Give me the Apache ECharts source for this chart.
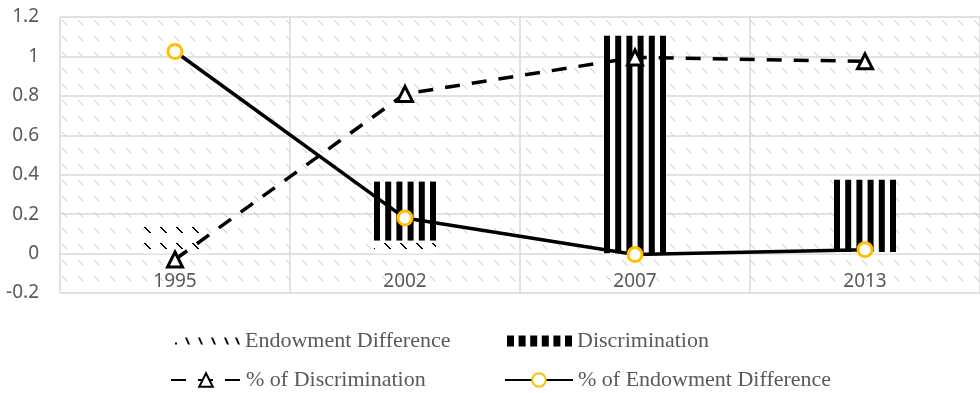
<!DOCTYPE html>
<html>
<head>
<meta charset="utf-8">
<script src="https://cdn.jsdelivr.net/npm/echarts@6/dist/echarts.min.js"></script>
<style>
  html, body { margin: 0; padding: 0; background: #fff; }
  #chart { width: 980px; height: 393px; }
</style>
</head>
<body>
<div id="chart"></div>
<script>
// Decomposition by survey year
const years = ['1995', '2002', '2007', '2013'];
const endowmentDiff = [0.135, 0.065, -0.005, 0.0075];
const discrimination = [-0.004, 0.30, 1.105, 0.367];
const pctDiscrimination = [-0.03, 0.81, 0.995, 0.975];
const pctEndowment = [1.025, 0.18, -0.005, 0.02];
const yTicks = { min: -0.2, max: 1.2, step: 0.2 };

const GRAY = '#595959';
const GRID_LINE = '#d9d9d9';

const GRID = { left: 60, right: 0, top: 17, bottom: 100 };
const CHART_H = 393;
const plotH = CHART_H - GRID.top - GRID.bottom;
// lift the category axis from the bottom edge up to the zero line
const zeroLift = (0 - yTicks.min) / (yTicks.max - yTicks.min) * plotH;

// Small repeating tile with a short downward diagonal dash
function dashTile(size, bg, fg, x0, y0, steps, thick) {
  const c = document.createElement('canvas');
  c.width = c.height = size;
  const g = c.getContext('2d');
  if (bg) { g.fillStyle = bg; g.fillRect(0, 0, size, size); }
  g.fillStyle = fg;
  for (let k = 0; k < steps; k++) {
    for (let t = 0; t < thick; t++) {
      g.fillRect((x0 + k + t) % size, (y0 + k) % size, 1, 1);
    }
  }
  return c;
}

const plotFill = { image: dashTile(16, '#ffffff', '#c4c4c4', 14, 4, 5, 1), repeat: 'repeat' };
const endowFill = { image: dashTile(16, '#ffffff', '#000000', 0, 3, 6, 2), repeat: 'repeat' };

// Legend glyphs
function dashIconPath() {
  let p = 'path://M0 5 L2 5 L2 7 L0 7 Z';
  [10, 23, 36, 49, 60].forEach(x => {
    p += ` M${x} 0 L${x + 2} 0 L${x + 5} 7 L${x + 3} 7 Z`;
  });
  return p;
}
function stripeIconPath() {
  let p = 'path://';
  for (let i = 0; i < 6; i++) {
    const x = +(i * 11.6).toFixed(1);
    p += `M${x} 0 L${x + 7} 0 L${x + 7} 11 L${x} 11 Z `;
  }
  return p.trim();
}

const BAR_W = 62;

// Striped discrimination bar, stacked on the endowment bar
function renderStripes(params, api) {
  const i = api.value(0);
  const endow = api.value(1);
  const disc = api.value(2);
  const base = (endow >= 0) === (disc >= 0) ? endow : 0;
  const p0 = api.coord([i, base]);
  const p1 = api.coord([i, base + disc]);
  const x = p0[0] - BAR_W / 2;
  const y = Math.min(p0[1], p1[1]);
  const h = Math.abs(p1[1] - p0[1]);
  // a bar thinner than one pixel does not show
  if (h < 1) return null;
  const stripeW = 6;
  const period = (BAR_W - stripeW) / 5;
  const children = [{
    type: 'rect',
    shape: { x: x, y: y, width: BAR_W, height: h },
    style: { fill: '#ffffff' }
  }];
  for (let s = 0; s < 6; s++) {
    children.push({
      type: 'rect',
      shape: { x: x + s * period, y: y, width: stripeW, height: h },
      style: { fill: '#000000' }
    });
  }
  return { type: 'group', children: children };
}

const legendText = { fontFamily: 'Liberation Serif', fontSize: 22, color: GRAY };
const axisText = { fontFamily: 'Noto Sans', fontSize: 19, color: GRAY };

const chart = echarts.init(document.getElementById('chart'), null, { renderer: 'canvas' });
chart.setOption({
  animation: false,
  backgroundColor: '#ffffff',
  grid: Object.assign({ show: true, backgroundColor: plotFill, borderWidth: 0 }, GRID),
  legend: [
    { left: 175, top: 330, padding: 0, itemWidth: 65, itemHeight: 7, textStyle: legendText,
      data: [{ name: 'Endowment Difference', icon: dashIconPath(), itemStyle: { color: '#000' } }] },
    { left: 507, top: 330, padding: 0, itemWidth: 65, itemHeight: 11, textStyle: legendText,
      data: [{ name: 'Discrimination', icon: stripeIconPath(), itemStyle: { color: '#000' } }] },
    { left: 170, top: 369, padding: 0, itemWidth: 70, itemHeight: 17, textStyle: legendText,
      data: ['% of Discrimination'] },
    { left: 504, top: 369, padding: 0, itemWidth: 68, itemHeight: 17, textStyle: legendText,
      data: ['% of Endowment Difference'] }
  ],
  xAxis: {
    type: 'category',
    data: years,
    boundaryGap: true,
    offset: -zeroLift,
    axisLine: { show: false, onZero: false },
    axisTick: { show: false },
    axisLabel: Object.assign({ margin: 19 }, axisText),
    splitLine: { show: true, lineStyle: { color: GRID_LINE, width: 1.5 } }
  },
  yAxis: {
    type: 'value',
    min: yTicks.min, max: yTicks.max, interval: yTicks.step,
    axisLine: { show: false },
    axisTick: { show: false },
    axisLabel: Object.assign({ margin: 21 }, axisText),
    splitLine: { show: true, lineStyle: { color: GRID_LINE, width: 1.5 } }
  },
  series: [
    {
      name: 'Endowment Difference',
      type: 'bar',
      barWidth: BAR_W,
      data: endowmentDiff,
      itemStyle: { color: endowFill }
    },
    {
      name: 'Discrimination',
      type: 'custom',
      renderItem: renderStripes,
      clip: true,
      itemStyle: { color: '#000' },
      encode: { x: 0, y: [1, 2] },
      data: years.map((y, i) => [i, endowmentDiff[i], discrimination[i]])
    },
    {
      name: '% of Discrimination',
      type: 'line',
      data: pctDiscrimination,
      symbol: 'triangle',
      symbolSize: 15,
      lineStyle: { color: '#000', width: 3.5, type: [15, 12] },
      itemStyle: { color: '#ffffff', borderColor: '#000', borderWidth: 3 },
      z: 4
    },
    {
      name: '% of Endowment Difference',
      type: 'line',
      data: pctEndowment,
      symbol: 'circle',
      symbolSize: 14,
      lineStyle: { color: '#000', width: 3.5 },
      itemStyle: { color: '#ffffff', borderColor: '#FFC000', borderWidth: 3 },
      z: 5
    }
  ]
});
</script>
</body>
</html>
